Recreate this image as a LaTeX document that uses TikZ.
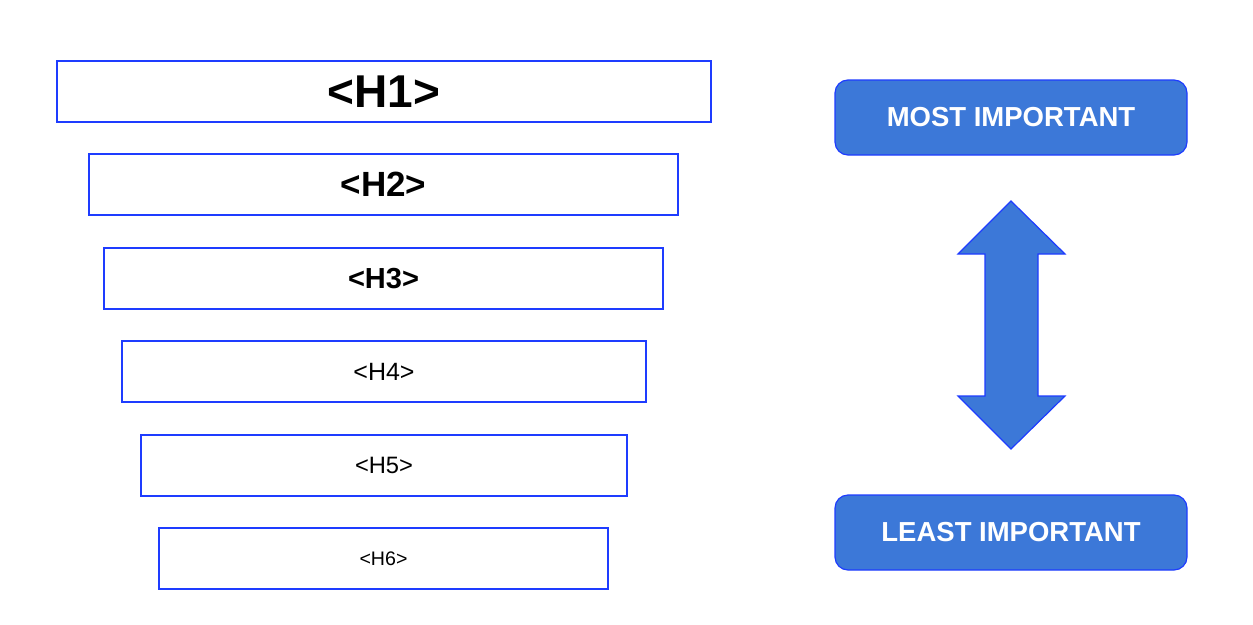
\documentclass[tikz,border=0pt]{standalone}
\usepackage{fontspec}
\setmainfont{Liberation Sans}
\definecolor{edgeblue}{RGB}{30,60,255}
\definecolor{fillblue}{RGB}{60,120,216}
\tikzset{
  hbox/.style={draw=edgeblue, line width=1.4pt, fill=white, minimum height=61pt, inner sep=0pt},
  rbox/.style={draw=edgeblue, line width=1.2pt, fill=fillblue, rounded corners=13pt, minimum width=352pt, minimum height=75pt, inner sep=0pt, text=white, font=\bfseries\fontsize{27.5}{30}\selectfont},
}
\begin{document}
\begin{tikzpicture}[x=1pt,y=-1pt]
\useasboundingbox (0,0) rectangle (1253,624);
\node[hbox, minimum width=654pt, font=\bfseries\fontsize{46}{50}\selectfont] (h1) at (384,91.5) {<H1>};
\node[hbox, minimum width=589pt, font=\bfseries\fontsize{35}{40}\selectfont] (h2) at (383.5,184.5) {<H2>};
\node[hbox, minimum width=559pt, font=\bfseries\fontsize{29}{34}\selectfont] (h3) at (383.5,278.5) {<H3>};
\node[hbox, minimum width=524pt, font=\fontsize{25}{30}\selectfont] (h4) at (384,371.5) {<H4>};
\node[hbox, minimum width=486pt, font=\fontsize{23.7}{28}\selectfont] (h5) at (384,465.5) {<H5>};
\node[hbox, minimum width=449pt, font=\fontsize{19.6}{24}\selectfont] (h6) at (383.5,558.5) {<H6>};
\node[rbox] (most) at (1011,117.5) {MOST IMPORTANT};
\node[rbox] (least) at (1011,532.5) {LEAST IMPORTANT};
\draw[draw=edgeblue, line width=1.2pt, fill=fillblue, line join=miter]
  (1011,201) -- (1065,254) -- (1038,254) -- (1038,396) -- (1065,396) -- (1011,449)
  -- (958,396) -- (985,396) -- (985,254) -- (958,254) -- cycle;
\end{tikzpicture}
\end{document}
